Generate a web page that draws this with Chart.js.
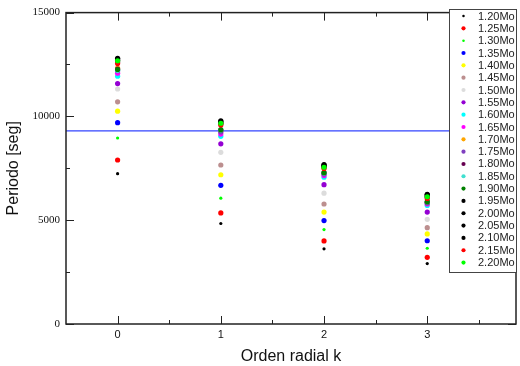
<!DOCTYPE html>
<html>
<head>
<meta charset="utf-8">
<script src="https://cdn.jsdelivr.net/npm/chart.js@4"></script>
<style>
  body { margin: 0; background: #fff; }
  #wrap { width: 520px; height: 366px; }
</style>
</head>
<body>
<div id="wrap"><canvas id="myChart"></canvas></div>
<script>
// orden radial k (eje x)
var orden = [0, 1, 2, 3];

// masas estelares (leyenda)
var masas = ['1.20Mo', '1.25Mo', '1.30Mo', '1.35Mo', '1.40Mo', '1.45Mo', '1.50Mo',
    '1.55Mo', '1.60Mo', '1.65Mo', '1.70Mo', '1.75Mo', '1.80Mo', '1.85Mo',
    '1.90Mo', '1.95Mo', '2.00Mo', '2.05Mo', '2.10Mo', '2.15Mo', '2.20Mo'];

var colores = ['#000000', '#ff0000', '#00ff00', '#0000ff', '#ffff00', '#bc8f8f', '#dcdcdc',
    '#9400d3', '#00ffff', '#ff00ff', '#ffa500', '#7f3fbf', '#660050', '#40e0d0',
    '#008000', '#000000', '#000000', '#000000', '#000000', '#ff0000', '#00ff00'];

// periodos [seg] para k = 0..3, una fila por masa
var periodos = [
    [7240, 4840, 3620, 2910],
    [7900, 5350, 4000, 3210],
    [8960, 6060, 4550, 3650],
    [9700, 6680, 4980, 4010],
    [10250, 7190, 5390, 4340],
    [10700, 7660, 5780, 4640],
    [11320, 8270, 6300, 5040],
    [11580, 8680, 6710, 5390],
    [11940, 9040, 7070, 5710],
    [12080, 9150, 7150, 5780],
    [12330, 9300, 7250, 5850],
    [12200, 9250, 7220, 5830],
    [12280, 9330, 7280, 5870],
    [12220, 9340, 7270, 5880],
    [12260, 9360, 7290, 5890],
    [12620, 9640, 7560, 6120],
    [12700, 9700, 7600, 6170],
    [12760, 9750, 7650, 6220],
    [12800, 9790, 7680, 6250],
    [12550, 9590, 7490, 6050],
    [12680, 9670, 7550, 6130]
];

// linea horizontal de referencia
var lineaRef = 9300;

var yTicks = [0, 5000, 10000, 15000];
var xMin = -0.5, xMax = 3.86;

var datasets = masas.map(function (m, i) {
    var small = (i === 0 || i === 2);
    return {
        label: m,
        type: 'scatter',
        data: orden.map(function (k, j) { return { x: k, y: periodos[i][j] }; }),
        backgroundColor: colores[i],
        borderColor: colores[i],
        borderWidth: 0,
        pointRadius: small ? 1.6 : 2.6,
        order: masas.length - i   // las masas mayores se dibujan encima
    };
});

datasets.push({
    label: 'ref',
    type: 'line',
    data: [{ x: xMin, y: lineaRef }, { x: xMax, y: lineaRef }],
    borderColor: '#3344ff',
    borderWidth: 1.2,
    pointRadius: 0,
    order: 99
});

var framePlugin = {
    id: 'frame',
    afterDatasetsDraw: function (chart) {
        var ctx = chart.ctx, a = chart.chartArea;
        var xs = chart.scales.x, ys = chart.scales.y;
        ctx.save();
        ctx.strokeStyle = '#222';
        ctx.lineWidth = 1.5;
        ctx.strokeRect(a.left, a.top, a.right - a.left, a.bottom - a.top);
        ctx.lineWidth = 1;
        // ticks hacia adentro
        for (var v = 0; v <= 15000; v += 2500) {
            var py = Math.round(ys.getPixelForValue(v)) + 0.5;
            var len = (v % 5000 === 0) ? 8 : 4;
            ctx.beginPath();
            ctx.moveTo(a.left, py); ctx.lineTo(a.left + len, py);
            ctx.moveTo(a.right, py); ctx.lineTo(a.right - len, py);
            ctx.stroke();
        }
        for (var k = 0; k <= 3.5; k += 0.5) {
            var px = Math.round(xs.getPixelForValue(k)) + 0.5;
            var l2 = (k % 1 === 0) ? 8 : 4;
            ctx.beginPath();
            ctx.moveTo(px, a.bottom); ctx.lineTo(px, a.bottom - l2);
            ctx.moveTo(px, a.top); ctx.lineTo(px, a.top + l2);
            ctx.stroke();
        }
        ctx.restore();
    },
    afterDraw: function (chart) {
        var ctx = chart.ctx;
        var bx = 449.5, by = 9.5, bw = 67, bh = 263;
        ctx.save();
        ctx.fillStyle = '#fff';
        ctx.fillRect(bx, by, bw, bh);
        ctx.strokeStyle = '#444';
        ctx.lineWidth = 1;
        ctx.strokeRect(bx, by, bw, bh);
        ctx.font = '11px "Liberation Sans", Arial, sans-serif';
        ctx.textBaseline = 'middle';
        masas.forEach(function (m, i) {
            var ds = chart.data.datasets[i];
            var yy = 16 + i * 12.33;
            ctx.fillStyle = ds.backgroundColor;
            ctx.beginPath();
            ctx.arc(463.5, yy, ds.pointRadius * 0.8, 0, Math.PI * 2);
            ctx.fill();
            ctx.fillStyle = '#222';
            ctx.fillText(m, 478, yy + 0.5);
        });
        ctx.restore();
    }
};

new Chart(document.getElementById('myChart'), {
    type: 'scatter',
    data: { datasets: datasets },
    plugins: [framePlugin],
    options: {
        responsive: true,
        maintainAspectRatio: false,
        animation: false,
        layout: { padding: { top: 5, right: 1, left: 4, bottom: 0 } },
        plugins: {
            legend: { display: false },
            tooltip: { enabled: false }
        },
        scales: {
            x: {
                type: 'linear',
                min: xMin,
                max: xMax,
                grid: { display: false, drawTicks: false },
                border: { display: false },
                afterBuildTicks: function (s) {
                    s.ticks = orden.map(function (v) { return { value: v }; });
                },
                afterFit: function (s) { s.height = 42; },
                ticks: {
                    padding: 4,
                    color: '#111',
                    callback: function (v) { return String(v); },
                    font: { family: '"Liberation Sans", Arial, sans-serif', size: 11 }
                },
                title: {
                    display: true,
                    text: 'Orden radial k',
                    color: '#111',
                    padding: { top: 0, bottom: 0 },
                    font: { family: '"Liberation Sans", Arial, sans-serif', size: 16 }
                }
            },
            y: {
                min: 0,
                max: 15000,
                grid: { display: false, drawTicks: false },
                border: { display: false },
                afterBuildTicks: function (s) {
                    s.ticks = yTicks.map(function (v) { return { value: v }; });
                },
                afterFit: function (s) { s.width = 62; },
                ticks: {
                    padding: 6,
                    color: '#111',
                    callback: function (v) { return String(v); },
                    font: { family: '"Liberation Serif", "Times New Roman", serif', size: 11 }
                },
                title: {
                    display: true,
                    text: 'Periodo [seg]',
                    color: '#111',
                    padding: { top: 0, bottom: 4 },
                    font: { family: '"Liberation Sans", Arial, sans-serif', size: 16 }
                }
            }
        }
    }
});
</script>
</body>
</html>
